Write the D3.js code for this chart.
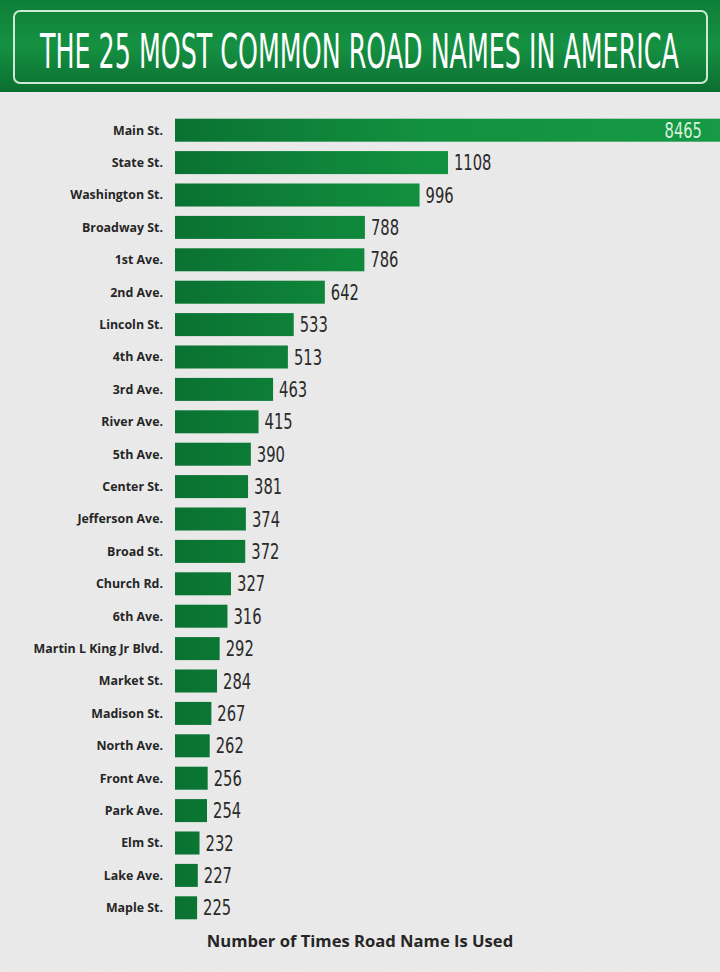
<html><head>
<meta charset="UTF-8">
<script src="https://cdn.jsdelivr.net/npm/d3@7"></script>
<style>
body{margin:0;background:#ececec;overflow:hidden}
.lbl{font-family:"Open Sans",Lato,sans-serif;font-weight:700;font-size:12.4px;fill:#262626}
.val{font-family:"Liberation Sans Narrow","DejaVu Sans Condensed",sans-serif;font-size:21px;fill:#2a2a2a}
.ttl{font-family:"Liberation Sans Narrow","DejaVu Sans Condensed",sans-serif;font-size:30px;fill:#fff}
.axt{font-family:"Open Sans",Lato,sans-serif;font-weight:700;font-size:16.6px;fill:#262626}
</style>
</head><body>
<div id="chart"></div>
<script>
// road names, most common first
var roads = ["Main St.","State St.","Washington St.","Broadway St.","1st Ave.","2nd Ave.","Lincoln St.","4th Ave.","3rd Ave.","River Ave.","5th Ave.","Center St.","Jefferson Ave.","Broad St.","Church Rd.","6th Ave.","Martin L King Jr Blvd.","Market St.","Madison St.","North Ave.","Front Ave.","Park Ave.","Elm St.","Lake Ave.","Maple St."];
var counts = [8465,1108,996,788,786,642,533,513,463,415,390,381,374,372,327,316,292,284,267,262,256,254,232,227,225];
var title = "THE 25 MOST COMMON ROAD NAMES IN AMERICA";
var axisTitle = "Number of Times Road Name Is Used";

var W = 720, H = 972;
var x0 = 175;

var svg = d3.select("#chart").append("svg").attr("width",W).attr("height",H);
var defs = svg.append("defs");

// paper texture
var f = defs.append("filter").attr("id","paper").attr("x",0).attr("y",0).attr("width","100%").attr("height","100%");
f.append("feTurbulence").attr("type","fractalNoise").attr("baseFrequency",0.9).attr("numOctaves",2).attr("seed",3);
f.append("feColorMatrix").attr("type","matrix").attr("values","0 0 0 0 0.55  0 0 0 0 0.55  0 0 0 0 0.55  0 0 0 0.18 0");

var bg = defs.append("linearGradient").attr("id","banner").attr("x1",0).attr("y1",0).attr("x2",0).attr("y2",1);
bg.append("stop").attr("offset","0%").attr("stop-color","#0e7f38");
bg.append("stop").attr("offset","50%").attr("stop-color","#159142");
bg.append("stop").attr("offset","100%").attr("stop-color","#0b6e30");

var bar = defs.append("linearGradient").attr("id","bar").attr("gradientUnits","userSpaceOnUse")
  .attr("x1",x0).attr("x2",720).attr("y1",0).attr("y2",0);
bar.append("stop").attr("offset","0%").attr("stop-color","#0a7232");
bar.append("stop").attr("offset","45%").attr("stop-color","#12903f");
bar.append("stop").attr("offset","100%").attr("stop-color","#169a45");

svg.append("rect").attr("width",W).attr("height",H).attr("fill","#ededed");
svg.append("rect").attr("width",W).attr("height",H).attr("filter","url(#paper)");

// title banner
svg.append("rect").attr("x",0).attr("y",0).attr("width",W).attr("height",92).attr("fill","url(#banner)");
svg.append("rect").attr("x",14).attr("y",11).attr("width",693).attr("height",72).attr("rx",6)
  .attr("fill","none").attr("stroke","#cfe9d5").attr("stroke-width",2);
var tt = svg.append("text").attr("class","ttl").text(title);
var tw = tt.node().getComputedTextLength();
tt.attr("transform","translate(40,68) scale(" + (639 / tw) + ",1.6)");

var data = roads.map(function(r,i){ return {name:r, v:counts[i]}; });

var y = d3.scaleBand().domain(roads).range([114, 924]).paddingInner(0.29).paddingOuter(0.145);
var x = d3.scalePow().exponent(0.8).domain([163, 1108]).range([x0, x0 + 273]);

var g = svg.append("g");

g.selectAll("rect.bar").data(data).enter().append("rect")
  .attr("class","bar")
  .attr("x",x0)
  .attr("y",function(d){ return y(d.name); })
  .attr("width",function(d){ return Math.min(x(d.v), W + 10) - x0; })
  .attr("height",y.bandwidth())
  .attr("fill","url(#bar)");

g.selectAll("text.lbl").data(data).enter().append("text")
  .attr("class","lbl")
  .attr("x",x0 - 12)
  .attr("y",function(d){ return y(d.name) + y.bandwidth()/2; })
  .attr("dy","0.36em")
  .attr("text-anchor","end")
  .text(function(d){ return d.name; });

g.selectAll("text.val").data(data).enter().append("text")
  .attr("class","val")
  .attr("text-anchor",function(d){ return x(d.v) > W ? "end" : "start"; })
  .style("fill",function(d){ return x(d.v) > W ? "#d8f0dc" : null; })
  .attr("transform",function(d){
    var tx = x(d.v) > W ? 702 : x(d.v) + 6;
    return "translate(" + tx + "," + (y(d.name) + y.bandwidth()/2 + 7.5) + ") scale(0.78,1)";
  })
  .text(function(d){ return d.v; });

svg.append("text").attr("class","axt").attr("x",360).attr("y",947).attr("text-anchor","middle").text(axisTitle);
</script>
</body></html>
